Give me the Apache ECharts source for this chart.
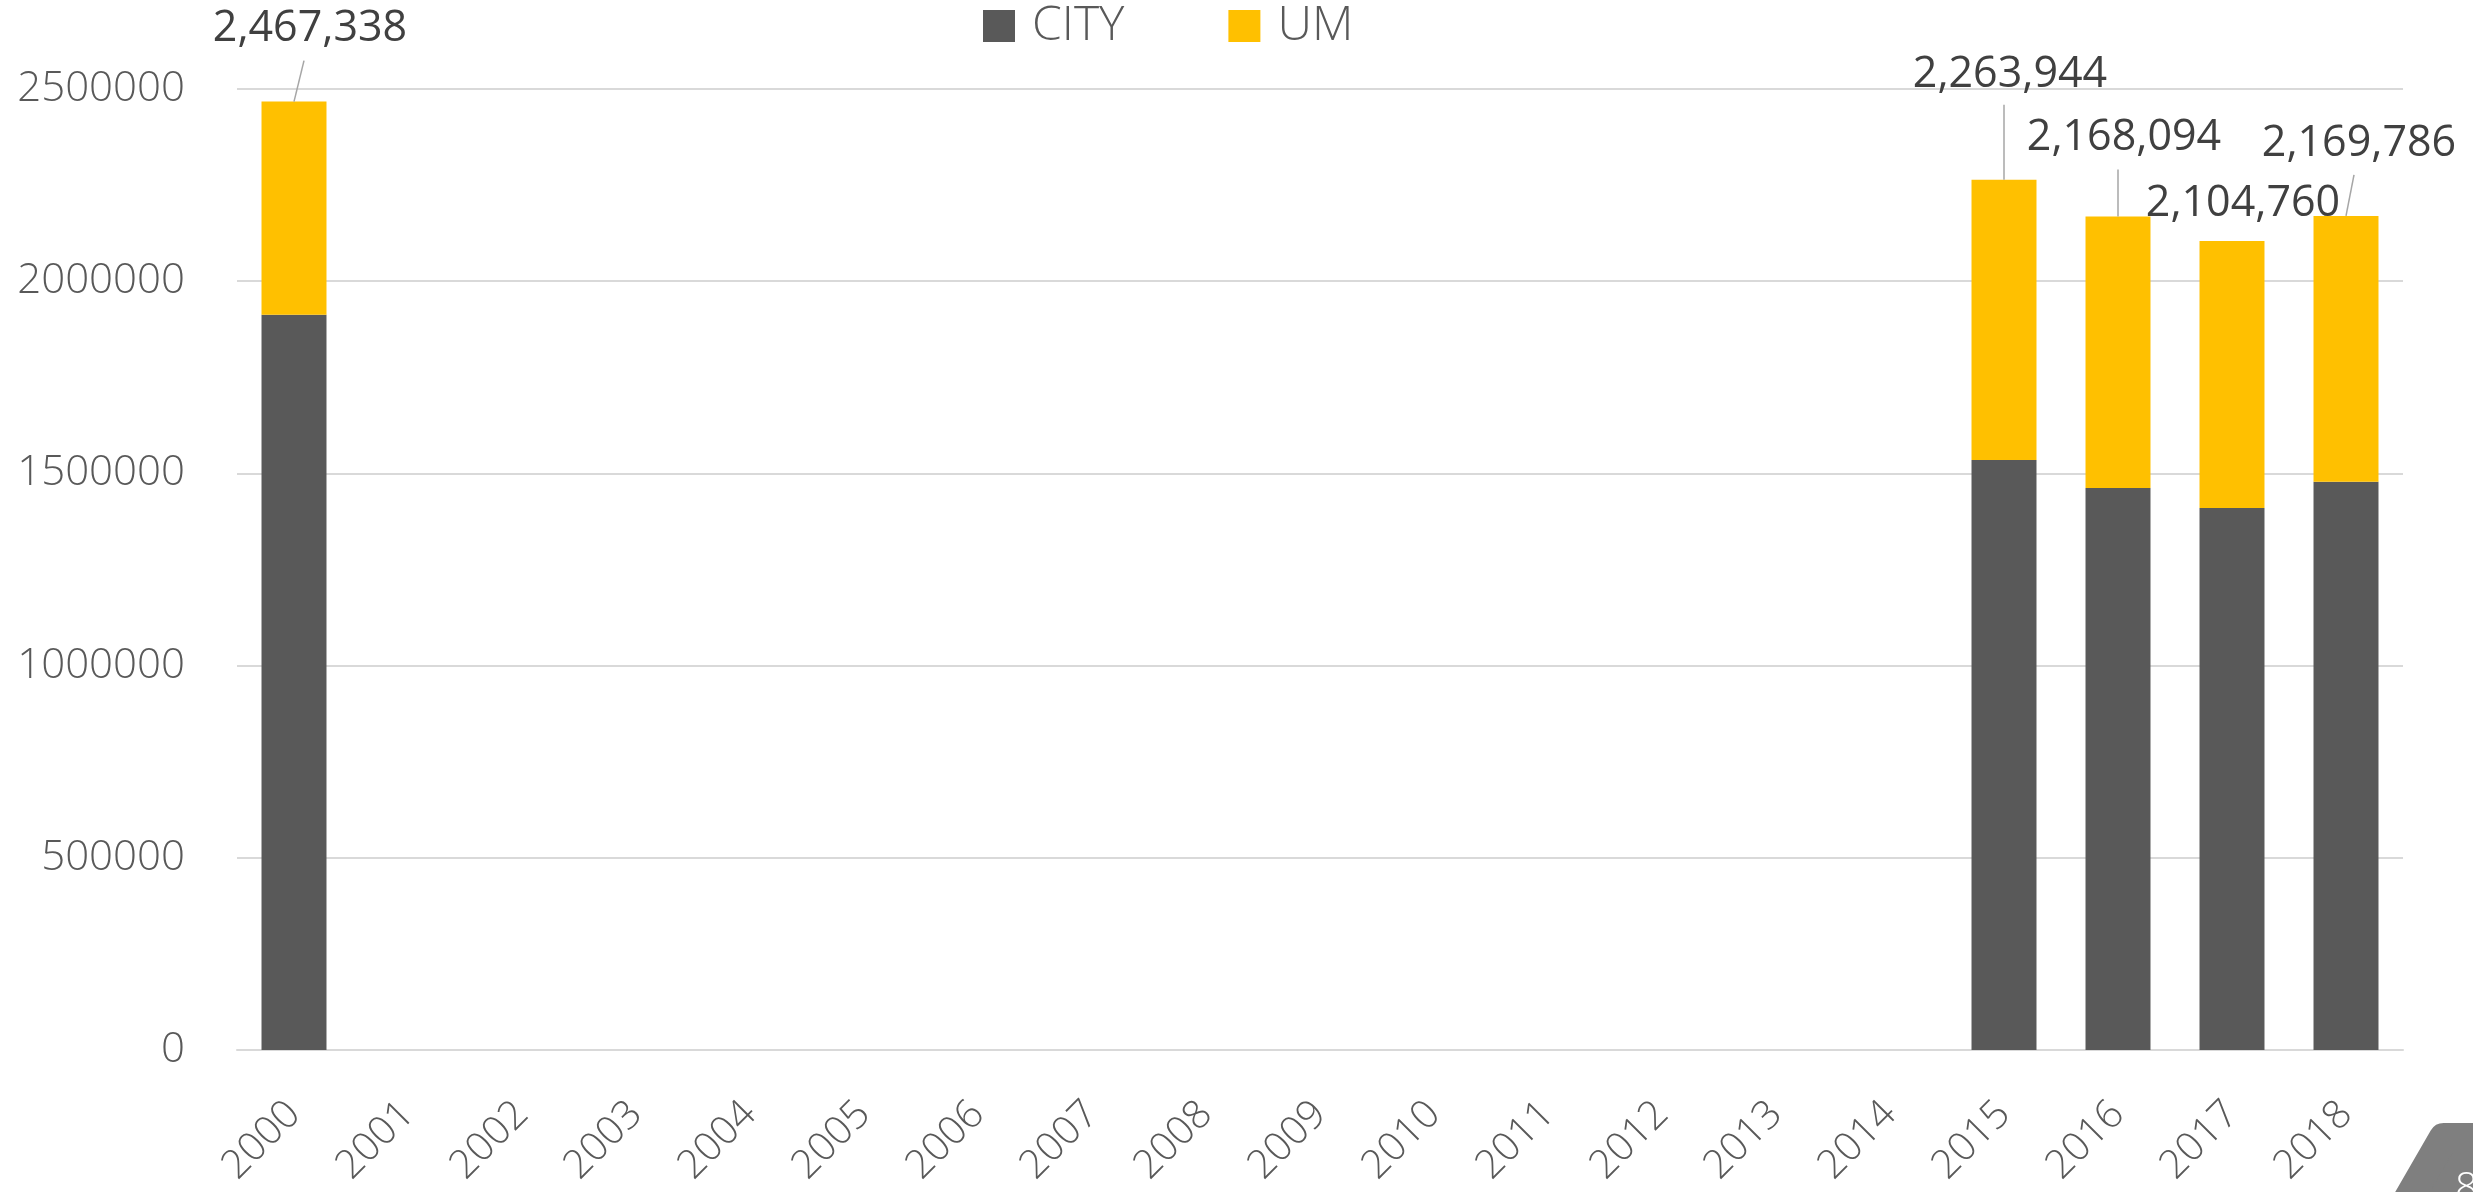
<!DOCTYPE html>
<html>
<head>
<meta charset="utf-8">
<script src="https://cdn.jsdelivr.net/npm/echarts@6/dist/echarts.min.js"></script>
<style>
html,body{margin:0;padding:0;background:#fff;}
#chart{width:2473px;height:1192px;}
</style>
</head>
<body>
<div id="chart"></div>
<script>
const years = ['2000','2001','2002','2003','2004','2005','2006','2007','2008','2009','2010','2011','2012','2013','2014','2015','2016','2017','2018'];
const cityValues = [1913000,null,null,null,null,null,null,null,null,null,null,null,null,null,null,1535000,1462000,1410000,1478000];
const umValues = [554338,null,null,null,null,null,null,null,null,null,null,null,null,null,null,728944,706094,694760,691786];
const totalLabels = [2467338,null,null,null,null,null,null,null,null,null,null,null,null,null,null,2263944,2168094,2104760,2169786];
const yTicks = [0,500000,1000000,1500000,2000000,2500000];

// callout placement (px offsets) for the total labels and their leader lines
const labelDx = {0:16, 15:6, 16:6, 17:11, 18:13};
const labelDy = {0:-46, 15:-78, 16:-52, 17:-11, 18:-46};
const leaderEnd = {0:[10,-41], 15:[0,-75], 16:[0,-47], 18:[8,-41]};

const leaderData = [];
totalLabels.forEach((t,i)=>{ if (t !== null && leaderEnd[i]) leaderData.push([i, t]); });

const chart = echarts.init(document.getElementById('chart'), null, {renderer:'canvas'});

const option = {
  animation:false,
  backgroundColor:'#ffffff',
  legend:{
    left:983, top:2, padding:0,
    itemWidth:32, itemHeight:32, itemGap:104,
    icon:'rect',
    textStyle:{fontFamily:'Open Sans', fontWeight:300, fontSize:48, color:'#595959', padding:[0,0,0,12]},
    data:['CITY','UM']
  },
  grid:{left:237, right:70, top:89, bottom:142, containLabel:false},
  xAxis:{
    type:'category', data:years,
    axisLine:{show:true, lineStyle:{color:'#d9d9d9', width:2}},
    axisTick:{show:false},
    axisLabel:{rotate:45, interval:0, margin:58, fontFamily:'Open Sans', fontWeight:300, fontSize:40, color:'#595959'}
  },
  yAxis:{
    type:'value', min:0, max:2500000, interval:500000,
    axisLine:{show:false}, axisTick:{show:false},
    axisLabel:{margin:52, fontFamily:'Open Sans', fontWeight:300, fontSize:42, color:'#595959',
      formatter:(v)=> yTicks.indexOf(v) >= 0 ? String(v) : ''},
    splitLine:{lineStyle:{color:'#d9d9d9', width:2}}
  },
  series:[
    {name:'CITY', type:'bar', stack:'total', data:cityValues, barCategoryGap:'43%',
      itemStyle:{color:'#595959'}},
    {name:'UM', type:'bar', stack:'total', data:umValues, barCategoryGap:'43%',
      itemStyle:{color:'#FFC000'},
      label:{show:true, position:'top', distance:5, fontFamily:'Open Sans', fontSize:43, color:'#404040',
        formatter:(p)=> totalLabels[p.dataIndex].toLocaleString('en-US')},
      labelLayout:(p)=> ({dx: labelDx[p.dataIndex] || 0, dy: labelDy[p.dataIndex] || 0})
    },
    {name:'leaders', type:'custom', data:leaderData, z:5, silent:true,
      renderItem:(params, api)=>{
        const idx = api.value(0);
        const p = api.coord([idx, api.value(1)]);
        const e = leaderEnd[idx];
        return {type:'line', shape:{x1:p[0], y1:p[1], x2:p[0]+e[0], y2:p[1]+e[1]},
          style:{stroke:'#a6a6a6', lineWidth:1.5}};
      }
    }
  ],
  graphic:[
    {type:'polygon', z:100,
      shape:{points:[[2443.7,1138],[2563.7,1138],[2623.7,1241.9],[2563.7,1345.8],[2443.7,1345.8],[2383.7,1241.9]]},
      style:{fill:'#7f7f7f', stroke:'#7f7f7f', lineWidth:30, lineJoin:'round'}},
    {type:'text', z:101, x:2455, y:1170,
      style:{text:'8', fill:'#ffffff', font:'300 40px "Open Sans"'}}
  ]
};
chart.setOption(option);
</script>
</body>
</html>
